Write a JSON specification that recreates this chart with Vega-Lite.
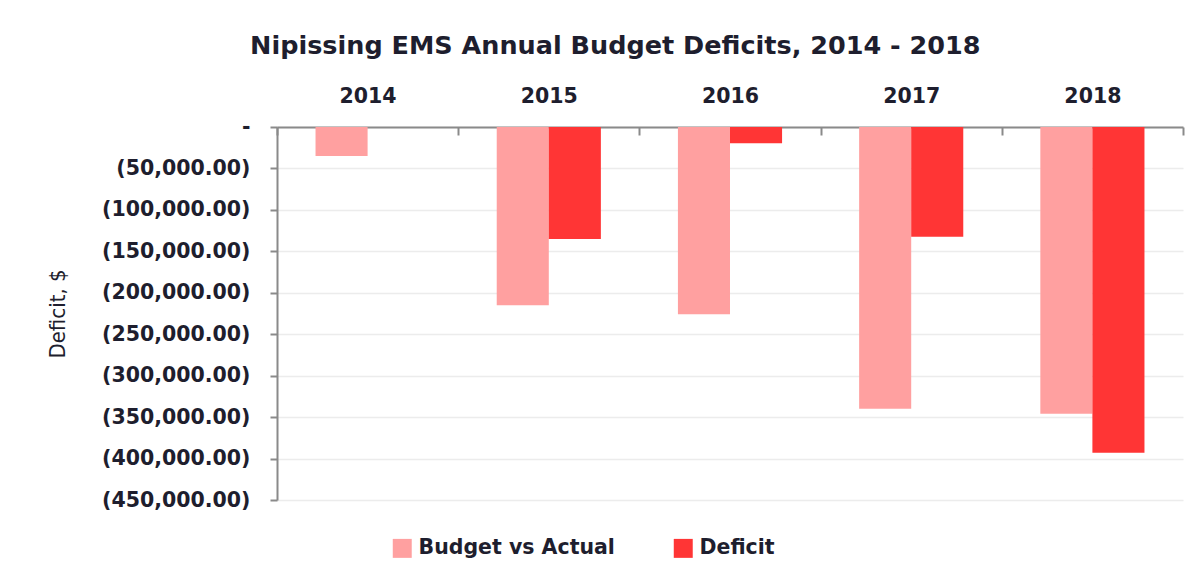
{
  "$schema": "https://vega.github.io/schema/vega-lite/v6.json",
  "width": 906,
  "height": 373,
  "autosize": {"type": "none"},
  "padding": {"left": 277, "top": 127, "right": 18, "bottom": 81},
  "background": "white",
  "title": {
    "text": "Nipissing EMS Annual Budget Deficits, 2014 - 2018",
    "font": "DejaVu Sans",
    "fontSize": 25.5,
    "fontWeight": "bold",
    "color": "#1e1e2e",
    "anchor": "middle",
    "frame": "bounds",
    "offset": 27
  },
  "data": {
    "values": [
      {"year": "2014", "series": "Budget vs Actual", "value": -35000},
      {"year": "2014", "series": "Deficit", "value": 0},
      {"year": "2015", "series": "Budget vs Actual", "value": -215000},
      {"year": "2015", "series": "Deficit", "value": -135000},
      {"year": "2016", "series": "Budget vs Actual", "value": -226000},
      {"year": "2016", "series": "Deficit", "value": -19500},
      {"year": "2017", "series": "Budget vs Actual", "value": -340000},
      {"year": "2017", "series": "Deficit", "value": -132500},
      {"year": "2018", "series": "Budget vs Actual", "value": -346000},
      {"year": "2018", "series": "Deficit", "value": -393000}
    ]
  },
  "mark": {"type": "bar"},
  "encoding": {
    "x": {
      "field": "year",
      "type": "nominal",
      "scale": {"paddingInner": 0, "paddingOuter": 0},
      "axis": {
        "orient": "top",
        "title": null,
        "labelAngle": 0,
        "labelFont": "DejaVu Sans",
        "labelFontSize": 20.5,
        "labelFontWeight": "bold",
        "labelColor": "#1e1e2e",
        "labelPadding": 29,
        "tickBand": "extent",
        "tickSize": -8,
        "tickColor": "#8a8a8a",
        "tickWidth": 2,
        "domainColor": "#8a8a8a",
        "domainWidth": 2,
        "grid": false
      }
    },
    "xOffset": {
      "field": "series",
      "type": "nominal",
      "scale": {"paddingInner": 0, "paddingOuter": 0.74}
    },
    "y": {
      "field": "value",
      "type": "quantitative",
      "scale": {"domain": [-450000, 0], "nice": false},
      "axis": {
        "title": "Deficit, $",
        "titleFont": "Liberation Sans Narrow, DejaVu Sans Condensed, sans-serif",
        "titleFontSize": 22,
        "titleFontWeight": "normal",
        "titleColor": "#1e1e2e",
        "titlePadding": 32,
        "values": [0, -50000, -100000, -150000, -200000, -250000, -300000, -350000, -400000, -450000],
        "labelExpr": "datum.value == 0 ? '-' : '(' + format(-datum.value, ',.2f') + ')'",
        "labelFont": "DejaVu Sans",
        "labelFontSize": 20.5,
        "labelFontWeight": "bold",
        "labelColor": "#1e1e2e",
        "labelPadding": 20,
        "tickSize": 7,
        "tickColor": "#8a8a8a",
        "tickWidth": 2,
        "domainColor": "#8a8a8a",
        "domainWidth": 2,
        "grid": true,
        "gridColor": "#ececec",
        "gridWidth": 1.5
      }
    },
    "color": {
      "field": "series",
      "type": "nominal",
      "scale": {"domain": ["Budget vs Actual", "Deficit"], "range": ["#ffa0a0", "#ff3535"]},
      "legend": {
        "title": null,
        "orient": "none",
        "direction": "horizontal",
        "legendX": 115,
        "legendY": 411,
        "symbolType": "square",
        "symbolSize": 360,
        "symbolStrokeWidth": 0,
        "symbolOpacity": 1,
        "labelFont": "DejaVu Sans",
        "labelFontSize": 20.5,
        "labelFontWeight": "bold",
        "labelColor": "#1e1e2e",
        "labelOffset": 6,
        "columnPadding": 58,
        "labelLimit": 400
      }
    }
  },
  "config": {
    "view": {"stroke": null}
  }
}
